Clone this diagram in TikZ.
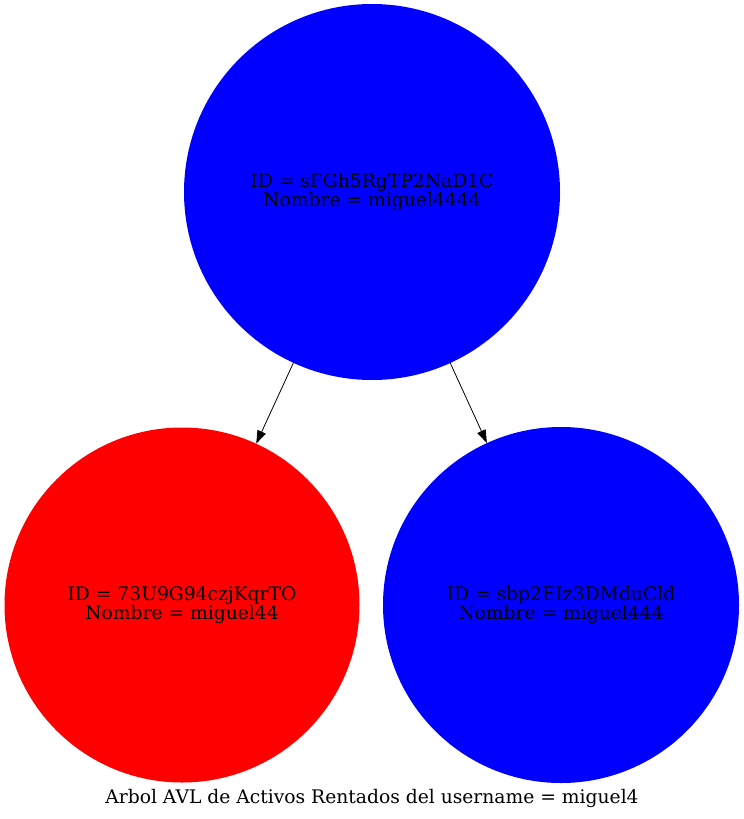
\documentclass[tikz,border=0pt]{standalone}
\usepackage{fontspec}
\setmainfont{DejaVu Serif}
\usetikzlibrary{arrows.meta}
\begin{document}
\begin{tikzpicture}[x=1pt,y=-1pt,
  avl/.style={circle,inner sep=0pt,align=center,font=\fontsize{18.7}{19}\selectfont},
  edge/.style={draw=black,line width=0.8pt,-{Triangle[length=13pt,width=9pt]}}]
\useasboundingbox (0,0) rectangle (744,819);
\node[avl,fill=blue,minimum size=376pt] (root) at (372,192) {ID = sFGh5RgTP2NaD1C\\Nombre = miguel4444};
\node[avl,fill=red,minimum size=355pt] (left) at (182,605) {ID = 73U9G94czjKqrTO\\Nombre = miguel44};
\node[avl,fill=blue,minimum size=356pt] (right) at (561,605) {ID = sbp2EIz3DMduCld\\Nombre = miguel444};
\draw[edge] (root) -- (left);
\draw[edge] (root) -- (right);
\node[font=\fontsize{18.7}{19}\selectfont] (title) at (372,798) {Arbol AVL de Activos Rentados del username = miguel4};
\end{tikzpicture}
\end{document}
